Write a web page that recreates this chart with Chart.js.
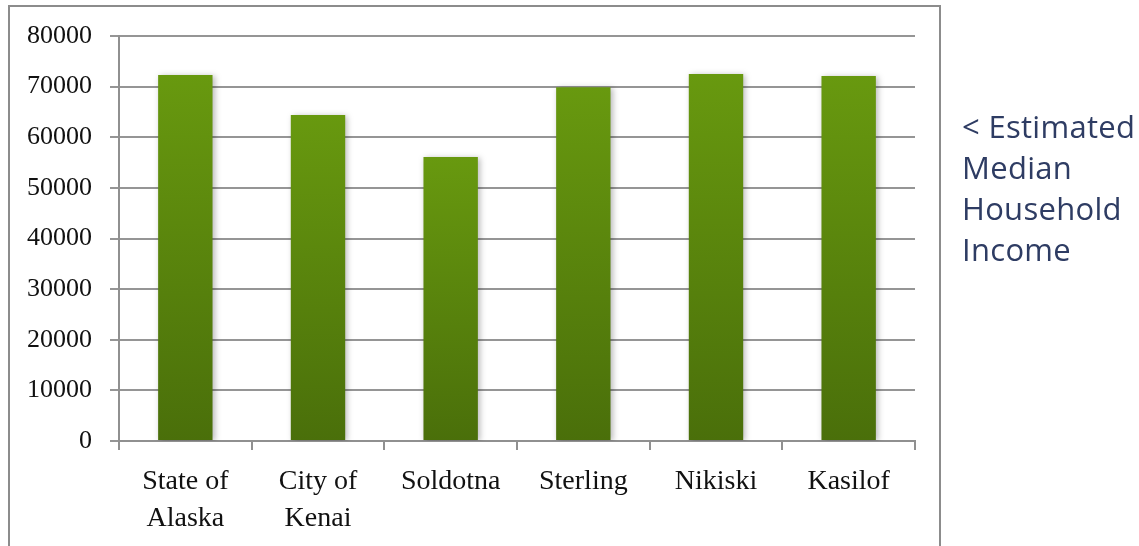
<!DOCTYPE html>
<html>
<head>
<meta charset="utf-8">
<script src="https://cdn.jsdelivr.net/npm/chart.js@4/dist/chart.umd.min.js"></script>
<style>
  html,body{margin:0;padding:0;background:#fff;width:1139px;height:546px;overflow:hidden;}
  #frame{position:absolute;left:8px;top:5px;width:933px;height:560px;border:2px solid #8c8c8c;box-sizing:border-box;}
  #wrap{position:absolute;left:0;top:0;width:1139px;height:546px;}
  #note{position:absolute;left:962px;top:106px;font-family:"Open Sans",sans-serif;font-size:31px;line-height:41px;color:#2e3c63;white-space:nowrap;letter-spacing:0.3px;}
</style>
</head>
<body>
<div id="frame"></div>
<div id="wrap"><canvas id="c" width="1139" height="546"></canvas></div>
<div id="note">&lt; Estimated<br>Median<br>Household<br>Income</div>
<script>
const categories = [["State of","Alaska"],["City of","Kenai"],"Soldotna","Sterling","Nikiski","Kasilof"];
const incomeValues = [72300, 64400, 56100, 69900, 72500, 72100];
const yTickLabels = [0,10000,20000,30000,40000,50000,60000,70000,80000];

const shadowPlugin = {
  id:'barShadow',
  beforeDatasetsDraw(chart){
    const ctx = chart.ctx; ctx.save();
    ctx.shadowColor='rgba(0,0,0,0.28)'; ctx.shadowBlur=6; ctx.shadowOffsetX=2; ctx.shadowOffsetY=1;
  },
  afterDatasetsDraw(chart){ chart.ctx.restore(); }
};

new Chart(document.getElementById('c'), {
  type:'bar',
  data:{
    labels: categories,
    datasets:[{
      data: incomeValues,
      backgroundColor:(c)=>{
        const chart=c.chart;
        if(!chart.chartArea || !chart.scales.y || c.dataIndex===undefined) return '#5d8a0e';
        const y=chart.scales.y;
        const top=y.getPixelForValue(incomeValues[c.dataIndex]);
        const bot=y.getPixelForValue(0);
        const g=chart.ctx.createLinearGradient(0,top,0,bot);
        g.addColorStop(0,'#68990f'); g.addColorStop(1,'#4a6f0a');
        return g;
      },
      borderWidth:0,
      categoryPercentage:1,
      barPercentage:0.41
    }]
  },
  options:{
    responsive:false,
    animation:false,
    layout:{padding:{left:0,top:36,right:224,bottom:0}},
    plugins:{legend:{display:false},tooltip:{enabled:false}},
    scales:{
      x:{
        afterFit:(s)=>{s.height=105;},
        grid:{offset:true,drawOnChartArea:false,drawTicks:true,tickLength:9,color:'#909090',lineWidth:2},
        border:{color:'#909090',width:2},
        ticks:{color:'#111',font:{family:'"Liberation Serif", serif',size:28,lineHeight:1.29},padding:14,maxRotation:0,autoSkip:false}
      },
      y:{
        min:0,max:80000,
        afterFit:(s)=>{s.width=119;},
        afterBuildTicks:(s)=>{s.ticks=yTickLabels.map(v=>({value:v}));},
        grid:{color:'#959595',lineWidth:2,tickLength:9,drawTicks:true},
        border:{color:'#909090',width:2},
        ticks:{color:'#111',font:{family:'"Liberation Serif", serif',size:26},padding:18,callback:(v)=>String(v)}
      }
    }
  },
  plugins:[shadowPlugin]
});
</script>
</body>
</html>
